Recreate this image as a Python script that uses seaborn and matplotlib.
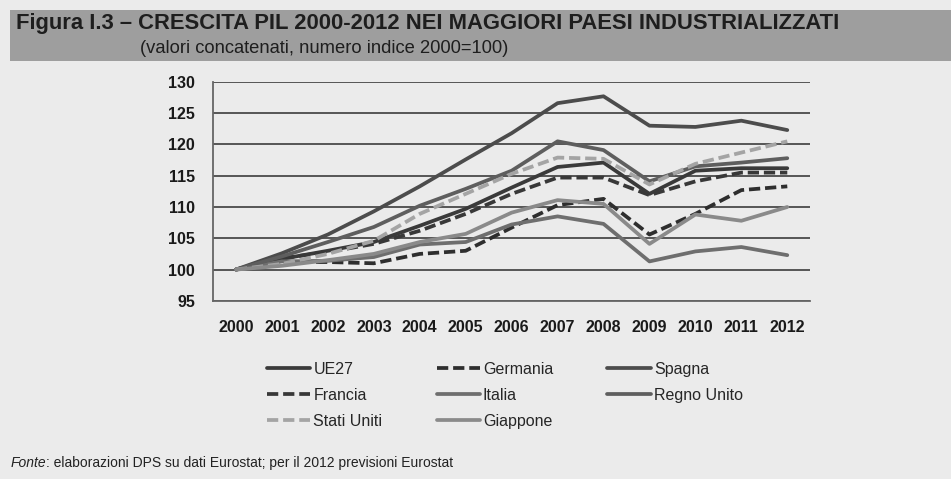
import numpy as np
import pandas as pd
import matplotlib
matplotlib.use("Agg")
import matplotlib.pyplot as plt
import seaborn as sns
from matplotlib.lines import Line2D
from matplotlib.patches import Rectangle

# Data (index 2000=100)
years = [2000, 2001, 2002, 2003, 2004, 2005, 2006, 2007, 2008, 2009, 2010, 2011, 2012]
ue27 = [100, 101.7, 103.0, 104.4, 107.0, 109.7, 113.1, 116.4, 117.1, 112.1, 115.8, 116.2, 116.2]
germania = [100, 101.2, 101.2, 101.0, 102.5, 103.0, 106.7, 110.3, 111.3, 105.6, 108.9, 112.7, 113.3]
spagna = [100, 102.6, 105.6, 109.3, 113.3, 117.6, 121.8, 126.6, 127.7, 123.0, 122.8, 123.8, 122.3]
francia = [100, 101.8, 102.8, 104.1, 106.2, 108.9, 112.1, 114.7, 114.7, 111.9, 114.1, 115.5, 115.5]
italia = [100, 101.3, 101.4, 102.0, 104.0, 104.4, 107.2, 108.5, 107.3, 101.3, 102.9, 103.6, 102.3]
regno_unito = [100, 102.1, 104.4, 106.8, 110.2, 112.9, 115.8, 120.5, 119.1, 114.1, 116.5, 117.1, 117.8]
stati_uniti = [100, 100.9, 102.5, 104.6, 108.9, 112.1, 115.3, 117.9, 117.7, 113.6, 116.9, 118.7, 120.5]
giappone = [100, 100.6, 101.5, 102.5, 104.4, 105.7, 109.1, 111.1, 110.5, 104.1, 108.8, 107.8, 110.0]

series_names = ["UE27", "Germania", "Spagna", "Francia", "Italia",
                "Regno Unito", "Stati Uniti", "Giappone"]
series_values = [ue27, germania, spagna, francia, italia,
                 regno_unito, stati_uniti, giappone]
series_colors = ["#3a3a3a", "#2e2e2e", "#4c4c4c", "#383838", "#6e6e6e",
                 "#5e5e5e", "#a4a4a4", "#8a8a8a"]
series_dashed = [False, True, False, True, False, False, True, False]

y_ticks = [95, 100, 105, 110, 115, 120, 125, 130]

bg = "#ebebeb"
sns.set_theme(style="white")
plt.rcParams["font.family"] = ["Liberation Sans", "DejaVu Sans"]

fig = plt.figure(figsize=(9.51, 4.79), dpi=100, facecolor=bg)
ax = fig.add_axes([0.224, 0.372, 0.628, 0.457], facecolor=bg)

dash = (0, (3.0, 1.3))
x_idx = np.arange(len(years))
for name, vals, col, dashed in zip(series_names, series_values, series_colors, series_dashed):
    sns.lineplot(x=x_idx, y=vals, ax=ax, color=col, linewidth=2.7,
                 linestyle=dash if dashed else "-")

ax.set_xlim(-0.5, len(years) - 0.5)
ax.set_ylim(95, 130)
ax.set_yticks(y_ticks)
ax.set_yticklabels([str(t) for t in y_ticks], fontsize=11.5, fontweight="bold", color="#1a1a1a")
ax.set_xticks(x_idx)
ax.set_xticklabels([str(y) for y in years], fontsize=11.5, fontweight="bold", color="#1a1a1a")
ax.set_xticks(np.arange(-0.5, len(years)), minor=True)
ax.tick_params(axis="x", which="major", length=0, pad=14)
ax.tick_params(axis="x", which="minor", length=5, width=1.2, color="#555555", direction="out")
ax.tick_params(axis="y", length=5, width=1.2, color="#555555", direction="out", pad=8)
ax.yaxis.grid(True, color="#555555", linewidth=1.4)
ax.set_axisbelow(True)
for side in ["top", "right"]:
    ax.spines[side].set_visible(False)
for side in ["left", "bottom"]:
    ax.spines[side].set_color("#666666")
    ax.spines[side].set_linewidth(1.3)

# title banner
fig.patches.append(Rectangle((0.011, 0.873), 0.989, 0.106, transform=fig.transFigure,
                             facecolor="#9e9e9e", edgecolor="none", zorder=0))
fig.text(0.017, 0.951, "Figura I.3 \u2013 CRESCITA PIL 2000-2012 NEI MAGGIORI PAESI INDUSTRIALIZZATI",
         fontsize=15.8, fontweight="bold", color="#1e1e1e", va="center", ha="left")
fig.text(0.147, 0.899, "(valori concatenati, numero indice 2000=100)",
         fontsize=13.2, color="#1e1e1e", va="center", ha="left")

# legend, reordered so rows read across like the original
handles = {n: Line2D([], [], color=c, linewidth=2.7, linestyle=dash if d else "-")
           for n, c, d in zip(series_names, series_colors, series_dashed)}
order = ["UE27", "Francia", "Stati Uniti", "Germania", "Italia", "Giappone",
         "Spagna", "Regno Unito"]
fig.legend([handles[n] for n in order], order, ncol=3, frameon=False,
           loc="upper left", bbox_to_anchor=(0.274, 0.258),
           prop={"size": 11.5, "weight": "medium"}, handlelength=2.7, handletextpad=0.2,
           columnspacing=3.4, labelspacing=0.68, borderaxespad=0)

fonte = fig.text(0.011, 0.033, "Fonte", fontsize=10, style="italic", color="#222222", va="center")
ax.annotate(": elaborazioni DPS su dati Eurostat; per il 2012 previsioni Eurostat",
            xy=(1, 0.5), xycoords=fonte, va="center", ha="left",
            fontsize=10, color="#222222", annotation_clip=False)

fig.savefig("out.png", dpi=100, facecolor=bg)
